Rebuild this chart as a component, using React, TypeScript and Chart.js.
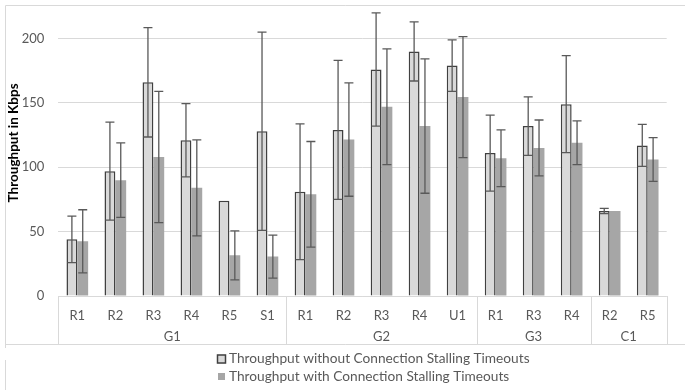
import React, { useEffect, useRef } from 'react';
import { Chart, registerables } from 'chart.js';

Chart.register(...registerables);

const categories = ['R1', 'R2', 'R3', 'R4', 'R5', 'S1', 'R1', 'R2', 'R3', 'R4', 'U1', 'R1', 'R3', 'R4', 'R2', 'R5'];
const groupLabels = ['G1', 'G2', 'G3', 'C1'];
const groupSizes = [6, 5, 3, 2];
const withoutValues = [44, 97, 166, 121, 74, 128, 81, 129, 176, 190, 179, 111, 132, 149, 66, 117];
const withoutErrors = [18, 38, 42.5, 28.5, 0, 77, 52.7, 54, 44, 23, 20, 29.5, 22.7, 37.7, 2, 16.3];
const withValues = [42.5, 90, 108, 84, 31.6, 30.6, 79, 121.5, 147, 132, 154.5, 107, 115, 119, 66, 106];
const withErrors = [24.5, 29, 51, 37.3, 19, 16.7, 41, 44, 45, 52.2, 47, 22, 21.7, 17, 0, 17];
const yTicks = [0, 50, 100, 150, 200];
const seriesNames = [
  'Throughput without Connection Stalling Timeouts',
  'Throughput with Connection Stalling Timeouts',
];
const yTitle = 'Throughput in Kbps';

const FONT = 'Lato, "Noto Sans", sans-serif';
const GRID = '#d9d9d9';
const TEXT = '#595959';
const LIGHT = '#d9d9d9';
const DARK = '#a6a6a6';
const EDGE = '#404040';

export default function App() {
  const ref = useRef<HTMLCanvasElement>(null);

  useEffect(() => {
    const canvas = ref.current;
    if (!canvas) return;

    const errorBars = {
      id: 'errorBars',
      afterDatasetsDraw(chart: any) {
        const ctx = chart.ctx;
        const y = chart.scales.y;
        const errs = [withoutErrors, withErrors];
        ctx.save();
        ctx.strokeStyle = '#595959';
        ctx.lineWidth = 1.3;
        chart.data.datasets.forEach((ds: any, di: number) => {
          const meta = chart.getDatasetMeta(di);
          meta.data.forEach((bar: any, i: number) => {
            const e = errs[di][i];
            if (!e) return;
            const v = ds.data[i];
            const x = bar.x;
            const yt = y.getPixelForValue(v + e);
            const yb = y.getPixelForValue(v - e);
            const cap = 4.5;
            ctx.beginPath();
            ctx.moveTo(x, yt);
            ctx.lineTo(x, yb);
            ctx.moveTo(x - cap, yt);
            ctx.lineTo(x + cap, yt);
            ctx.moveTo(x - cap, yb);
            ctx.lineTo(x + cap, yb);
            ctx.stroke();
          });
        });
        ctx.restore();
      },
    };

    const decor = {
      id: 'decor',
      afterDraw(chart: any) {
        const ctx = chart.ctx;
        const area = chart.chartArea;
        const x = chart.scales.x;
        const W = chart.width;
        const H = chart.height;
        const boxBottom = area.bottom + 48;
        ctx.save();
        ctx.strokeStyle = GRID;
        ctx.lineWidth = 1;
        // outer frame
        ctx.beginPath();
        ctx.moveTo(5.5, 5.5);
        ctx.lineTo(W, 5.5);
        ctx.moveTo(5.5, 5.5);
        ctx.lineTo(5.5, boxBottom + 4);
        ctx.moveTo(5.5, boxBottom + 16);
        ctx.lineTo(5.5, H);
        ctx.moveTo(5.5, boxBottom + 0.5);
        ctx.lineTo(W, boxBottom + 0.5);
        ctx.stroke();
        // category box
        const bounds: number[] = [area.left];
        let idx = 0;
        groupSizes.forEach((n) => {
          idx += n;
          if (idx < categories.length) {
            bounds.push((x.getPixelForValue(idx - 1) + x.getPixelForValue(idx)) / 2);
          }
        });
        bounds.push(area.right);
        ctx.beginPath();
        ctx.moveTo(area.left, Math.round(area.bottom) + 0.5);
        ctx.lineTo(area.right, Math.round(area.bottom) + 0.5);
        bounds.forEach((b) => {
          const bx = Math.round(b) + 0.5;
          ctx.moveTo(bx, area.bottom);
          ctx.lineTo(bx, boxBottom);
        });
        ctx.stroke();
        // group labels
        ctx.fillStyle = TEXT;
        ctx.font = '13px ' + FONT;
        ctx.textAlign = 'center';
        ctx.textBaseline = 'middle';
        idx = 0;
        groupSizes.forEach((n, gi) => {
          const cx = (x.getPixelForValue(idx) + x.getPixelForValue(idx + n - 1)) / 2;
          ctx.fillText(groupLabels[gi], cx, area.bottom + 41);
          idx += n;
        });
        // y title
        ctx.save();
        ctx.translate(14, (area.top + area.bottom) / 2 - 16);
        ctx.rotate(-Math.PI / 2);
        ctx.fillStyle = '#000000';
        ctx.font = 'bold 13.5px ' + FONT;
        ctx.textAlign = 'center';
        ctx.textBaseline = 'middle';
        ctx.fillText(yTitle, 0, 0);
        ctx.restore();
        // legend
        const lx = 229;
        const ly1 = boxBottom + 15;
        const ly2 = boxBottom + 32.5;
        ctx.fillStyle = LIGHT;
        ctx.fillRect(217, ly1 - 4.5, 9, 9);
        ctx.strokeStyle = EDGE;
        ctx.lineWidth = 1.5;
        ctx.strokeRect(217.5, ly1 - 4, 8, 8);
        ctx.fillStyle = DARK;
        ctx.fillRect(218, ly2 - 3.5, 7, 7);
        ctx.fillStyle = TEXT;
        ctx.font = '13.7px ' + FONT;
        ctx.textAlign = 'left';
        ctx.textBaseline = 'middle';
        ctx.fillText(seriesNames[0], lx, ly1);
        ctx.fillText(seriesNames[1], lx, ly2);
        ctx.restore();
      },
    };

    const chart = new Chart(canvas, {
      type: 'bar',
      data: {
        labels: categories,
        datasets: [
          {
            label: seriesNames[0],
            data: withoutValues,
            backgroundColor: LIGHT,
            borderColor: EDGE,
            borderWidth: 1.5,
            borderSkipped: 'start',
            categoryPercentage: 0.57,
            barPercentage: 1,
          },
          {
            label: seriesNames[1],
            data: withValues,
            backgroundColor: DARK,
            borderWidth: 0,
            categoryPercentage: 0.57,
            barPercentage: 1,
          },
        ],
      },
      options: {
        responsive: false,
        animation: false,
        layout: { padding: { top: 6.5, right: 18.3, left: 0, bottom: 0 } },
        plugins: {
          legend: { display: false },
          tooltip: { enabled: false },
        },
        scales: {
          x: {
            grid: { display: false, drawTicks: false },
            border: { display: false },
            ticks: {
              color: TEXT,
              font: { family: FONT, size: 13 },
              padding: 12,
              autoSkip: false,
              maxRotation: 0,
            },
            afterFit: (s: any) => {
              s.height = 94;
            },
          },
          y: {
            min: 0,
            max: 213,
            grid: { color: GRID, drawTicks: false },
            border: { display: false },
            ticks: {
              color: TEXT,
              font: { family: FONT, size: 13 },
              padding: 14,
              stepSize: 50,
            },
            afterBuildTicks: (s: any) => {
              s.ticks = yTicks.map((v) => ({ value: v }));
            },
            afterFit: (s: any) => {
              s.width = 58.3;
            },
          },
        },
      },
      plugins: [errorBars, decor],
    });
    return () => chart.destroy();
  }, []);

  return (
    <div style={{ position: 'absolute', left: 0, top: 0, width: 685, height: 390, background: '#fff' }}>
      <canvas ref={ref} width={685} height={390} />
    </div>
  );
}
